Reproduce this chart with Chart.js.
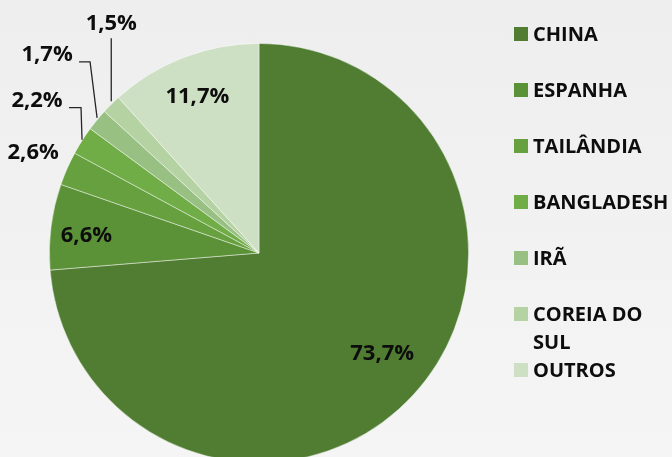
<!DOCTYPE html>
<html>
<head>
<meta charset="utf-8">
<script src="https://cdn.jsdelivr.net/npm/chart.js@4.4.1/dist/chart.umd.min.js"></script>
<style>
  html, body { margin: 0; padding: 0; width: 672px; height: 457px; overflow: hidden; }
  body { background: linear-gradient(#eeeeee, #f5f5f5); font-family: "Open Sans", sans-serif; position: relative; }
  #wrap { position: absolute; left: 0; top: 0; width: 518px; height: 506px; }
  .lg { position: absolute; left: 514px; width: 158px; }
  .lg .sw { position: absolute; left: 0; top: 7px; width: 14px; height: 14px; }
  .lg .tx { position: absolute; left: 19px; top: 0; width: 139px; font-weight: 700; font-size: 20px; line-height: 28px; color: #0d0d0d; }
</style>
</head>
<body>
<div id="wrap"><canvas id="c" width="518" height="506" style="width:518px;height:506px"></canvas></div>
<div id="legend"></div>
<script>
const categories = ["CHINA", "ESPANHA", "TAILÂNDIA", "BANGLADESH", "IRÃ", "COREIA DO SUL", "OUTROS"];
const values = [73.7, 6.6, 2.6, 2.2, 1.7, 1.5, 11.7];
const valueLabels = ["73,7%", "6,6%", "2,6%", "2,2%", "1,7%", "1,5%", "11,7%"];
const colors = ["#507d32", "#5c9237", "#67a13f", "#70ad47", "#98c083", "#b5d2a3", "#cde0c3"];

// label placement styles: frac of radius along mid-angle, then px offset; optional leader path (relative to edge midpoint)
const labelStyles = [
  { frac: 0.76, dx: 6, dy: -7 },
  { frac: 0.83, dx: 0, dy: 5 },
  { frac: 1.0, dx: -34, dy: -16 },
  { frac: 1.0, dx: -45, dy: -40, leader: [[0, -1], [-1, -33], [-13, -33]] },
  { frac: 1.0, dx: -50, dy: -65, leader: [[0, -2], [-7, -58], [-18, -58]] },
  { frac: 1.0, dx: 0, dy: -81, leader: [[0, -3], [0, -66]] },
  { frac: 0.805, dx: -1, dy: 1 }
];

// HTML legend
const legend = document.getElementById('legend');
categories.forEach((name, i) => {
  const d = document.createElement('div');
  d.className = 'lg';
  d.style.top = (20 + i * 56) + 'px';
  d.innerHTML = '<div class="sw" style="background:' + colors[i] + '"></div><div class="tx">' + name + '</div>';
  legend.appendChild(d);
});

const labelPlugin = {
  id: 'pieLabels',
  afterDatasetsDraw(chart) {
    const ctx = chart.ctx;
    const meta = chart.getDatasetMeta(0);
    meta.data.forEach((arc, i) => {
      const p = arc.getProps(['x', 'y', 'startAngle', 'endAngle', 'outerRadius'], true);
      const mid = (p.startAngle + p.endAngle) / 2;
      const st = labelStyles[i];
      const ex = p.x + Math.cos(mid) * p.outerRadius;
      const ey = p.y + Math.sin(mid) * p.outerRadius;
      const lx = p.x + Math.cos(mid) * p.outerRadius * st.frac + st.dx;
      const ly = p.y + Math.sin(mid) * p.outerRadius * st.frac + st.dy;
      ctx.save();
      if (st.leader) {
        ctx.beginPath();
        ctx.strokeStyle = '#262626';
        ctx.lineWidth = 1.3;
        st.leader.forEach((pt, k) => {
          const x = ex + pt[0], y = ey + pt[1];
          if (k === 0) ctx.moveTo(x, y); else ctx.lineTo(x, y);
        });
        ctx.stroke();
      }
      ctx.font = 'bold 22px "Open Sans"';
      ctx.fillStyle = '#0d0d0d';
      ctx.textAlign = 'center';
      ctx.textBaseline = 'middle';
      ctx.fillText(valueLabels[i], lx, ly);
      ctx.restore();
    });
  }
};

function draw() {
  new Chart(document.getElementById('c'), {
    type: 'pie',
    data: {
      labels: categories,
      datasets: [{
        data: values,
        backgroundColor: colors,
        borderColor: 'rgba(255,255,255,0.55)',
        borderWidth: 0.8
      }]
    },
    options: {
      responsive: false,
      animation: false,
      devicePixelRatio: 1,
      layout: { padding: { top: 43, bottom: 43, left: 49, right: 49 } },
      plugins: { legend: { display: false }, tooltip: { enabled: false } }
    },
    plugins: [labelPlugin]
  });
}
if (document.fonts && document.fonts.load) {
  document.fonts.load('bold 22px "Open Sans"').then(draw, draw);
} else { draw(); }
</script>
</body>
</html>
